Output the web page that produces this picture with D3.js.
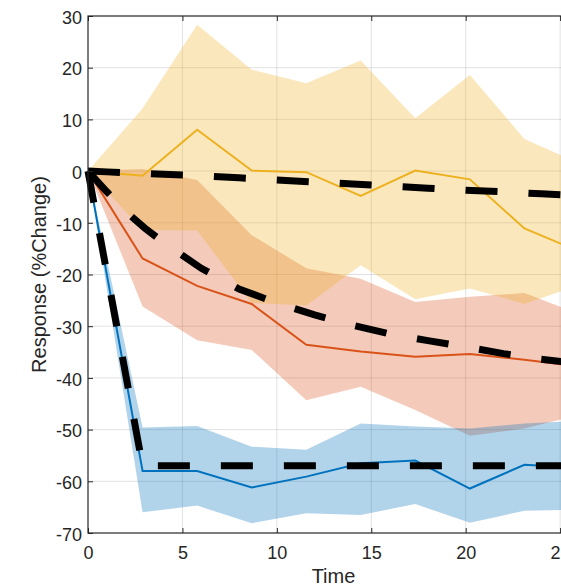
<!DOCTYPE html>
<html lang="en">
  <head>
    <meta charset="utf-8">
    <title>Response</title>
    <script src="https://d3js.org/d3.v7.min.js"></script>
    <style>
      body { margin: 0; background: #fff; }
      svg { display: block; }
      .tick text { font-family: "Liberation Sans", Arial, Helvetica, sans-serif; font-size: 18px; fill: #262626; }
      .lab { font-family: "Liberation Sans", Arial, Helvetica, sans-serif; font-size: 20px; fill: #262626; }
    </style>
  </head>
  <body>
    <svg width="561" height="588"></svg>
    <script>
      // sample times of the responses
      var time = [0, 2.89, 5.78, 8.67, 11.56, 14.44, 17.33, 20.22, 23.11, 26];

      var yellowMid = [0, -0.9, 8.0, 0.1, -0.2, -4.8, 0.1, -1.6, -11.1, -15.5];
      var yellowUp  = [0, 12.1, 28.3, 19.6, 17.0, 21.4, 10.2, 18.6, 6.2, 1.5];
      var yellowLo  = [0, -11.4, -11.5, -25.5, -26.0, -18.2, -24.8, -22.7, -25.7, -22.0];

      var orangeMid = [0, -16.9, -22.2, -25.7, -33.6, -34.9, -35.9, -35.4, -36.5, -37.8];
      var orangeUp  = [0, 0.4, -1.7, -12.4, -18.8, -20.8, -25.3, -24.3, -23.6, -27.6];
      var orangeLo  = [0, -26.2, -32.7, -34.6, -44.3, -41.7, -46.2, -51.2, -49.8, -47.2];

      var blueMid = [0, -58, -58, -61.2, -59.1, -56.5, -56, -61.4, -56.8, -57.4];
      var blueUp  = [0, -49.6, -49.3, -53.3, -53.9, -48.8, -49.4, -49.8, -48.8, -48.3];
      var blueLo  = [0, -66, -64.7, -68.1, -66.2, -66.5, -64.4, -68, -65.7, -65.5];

      // model curves (dashed)
      var modelTime = [0, 1, 2, 3, 4, 5, 6, 8, 10, 12, 14, 16, 18, 20, 22, 24, 26];
      var modelTop  = [0, -0.15, -0.3, -0.45, -0.6, -0.75, -0.9, -1.3, -1.7, -2.1, -2.5, -2.9, -3.3, -3.7, -4.0, -4.4, -4.7];
      var modelMid  = [0, -4, -7.8, -11, -13.8, -16.3, -18.8, -22.8, -25.5, -27.8, -29.8, -31.5, -32.8, -34.0, -35.3, -36.4, -37.2];
      var lowTime = [0, 2.89, 26];
      var modelLow = [0, -57, -57];

      var xTicks = [0, 5, 10, 15, 20, 25];
      var yTicks = [-70, -60, -50, -40, -30, -20, -10, 0, 10, 20, 30];

      var svg = d3.select("svg");
      var plotL = 88, plotT = 16, plotB = 533, plotR = 579;

      var x = d3.scaleLinear().domain([0, 26]).range([plotL, plotR]);
      var y = d3.scaleLinear().domain([-70, 30]).range([plotB, plotT]);

      // grid
      var grid = svg.append("g").attr("stroke", "#000").attr("stroke-opacity", 0.15).attr("stroke-width", 0.8);
      grid.selectAll(".gx").data(xTicks.slice(1)).enter().append("line")
          .attr("x1", function(d) { return x(d); }).attr("x2", function(d) { return x(d); })
          .attr("y1", plotT).attr("y2", plotB);
      grid.selectAll(".gy").data(yTicks.slice(1, -1)).enter().append("line")
          .attr("x1", plotL).attr("x2", plotR)
          .attr("y1", function(d) { return y(d); }).attr("y2", function(d) { return y(d); });

      function band(up, lo, color) {
        var pts = time.map(function(t, i) { return [t, up[i], lo[i]]; });
        var area = d3.area()
            .x(function(d) { return x(d[0]); })
            .y0(function(d) { return y(d[2]); })
            .y1(function(d) { return y(d[1]); });
        svg.append("path").datum(pts)
            .attr("d", area)
            .attr("fill", color)
            .attr("fill-opacity", 0.3);
      }

      function line(ts, vals, color, width, dash) {
        var pts = ts.map(function(t, i) { return [t, vals[i]]; });
        var p = svg.append("path").datum(pts)
            .attr("d", d3.line().x(function(d) { return x(d[0]); }).y(function(d) { return y(d[1]); }))
            .attr("fill", "none")
            .attr("stroke", color)
            .attr("stroke-width", width);
        if (dash) p.attr("stroke-dasharray", dash);
      }

      band(orangeUp, orangeLo, "#D95319");
      band(yellowUp, yellowLo, "#EDB120");
      band(blueUp, blueLo, "#0072BD");

      line(time, yellowMid, "#EDB120", 2);
      line(time, orangeMid, "#D95319", 2);
      line(time, blueMid, "#0072BD", 2);

      line(modelTime, modelTop, "#000", 7, "32,31");
      line(modelTime, modelMid, "#000", 7, "32,31");
      line(lowTime, modelLow, "#000", 7, "32,31");

      // axes
      svg.append("g").attr("transform", "translate(0," + plotB + ")")
          .call(d3.axisBottom(x).tickValues(xTicks).tickSize(-5).tickPadding(13).tickFormat(d3.format("d")));
      svg.append("g").attr("transform", "translate(0," + plotT + ")")
          .call(d3.axisTop(x).tickValues(xTicks).tickSize(-5).tickFormat(""));
      var yAxis = svg.append("g").attr("transform", "translate(" + plotL + ",0)")
          .call(d3.axisLeft(y).tickValues(yTicks).tickSize(-5).tickPadding(6).tickFormat(d3.format("d")));
      yAxis.selectAll("text").attr("dy", "0.4em").text(function(d) { return d < 0 ? "-" + Math.abs(d) : d; });

      svg.selectAll(".domain").remove();
      svg.selectAll(".tick line").attr("stroke", "#262626").attr("stroke-width", 1);

      svg.append("rect")
          .attr("x", plotL).attr("y", plotT)
          .attr("width", plotR - plotL).attr("height", plotB - plotT)
          .attr("fill", "none").attr("stroke", "#262626").attr("stroke-width", 1.2);

      svg.append("text").attr("class", "lab")
          .attr("x", (plotL + plotR) / 2).attr("y", 583)
          .attr("text-anchor", "middle").text("Time");
      svg.append("text").attr("class", "lab")
          .attr("transform", "translate(46," + ((plotT + plotB) / 2) + ") rotate(-90)")
          .attr("text-anchor", "middle").text("Response (%Change)");
    </script>
  </body>
</html>
